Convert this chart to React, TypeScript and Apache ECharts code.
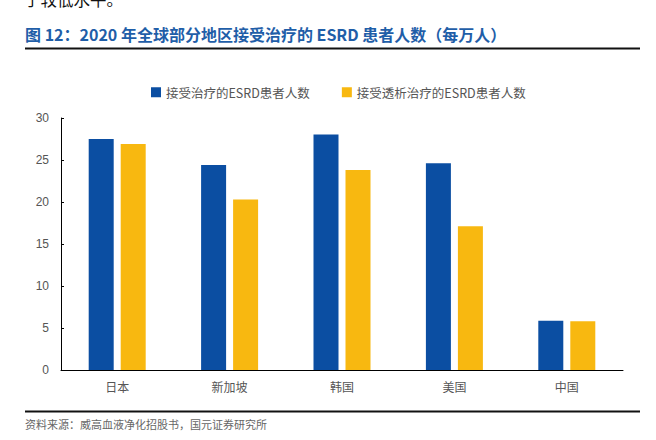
import React, { useEffect, useRef } from "react";
import * as echarts from "echarts";

const categories = ["日本", "新加坡", "韩国", "美国", "中国"];
const treated = [27.5, 24.4, 28.05, 24.6, 5.85];
const dialysis = [26.9, 20.3, 23.8, 17.1, 5.8];
const seriesNames = ["接受治疗的ESRD患者人数", "接受透析治疗的ESRD患者人数"];
const yTicks = { min: 0, max: 30, interval: 5 };

const CJK = '"Noto Sans CJK SC", "Liberation Sans", sans-serif';

export default function App() {
  const ref = useRef<HTMLDivElement>(null);
  useEffect(() => {
    if (!ref.current) return;
    const chart = echarts.init(ref.current, undefined, { renderer: "svg" });
    chart.setOption({
      animation: false,
      backgroundColor: "#ffffff",
      textStyle: { fontFamily: CJK },
      legend: {
        top: 81,
        left: 146,
        itemWidth: 10,
        itemHeight: 10,
        itemGap: 32,
        icon: "rect",
        textStyle: { color: "#555555", fontSize: 12.5, fontFamily: CJK },
        data: seriesNames,
      },
      grid: { left: 61, right: 33, top: 118, bottom: 70, containLabel: false },
      xAxis: {
        type: "category",
        data: categories,
        axisLine: { lineStyle: { color: "#000000", width: 1 } },
        axisTick: { inside: true, length: 4, lineStyle: { color: "#000000" } },
        axisLabel: { color: "#555555", fontSize: 12, margin: 10, fontFamily: CJK },
      },
      yAxis: {
        type: "value",
        min: yTicks.min,
        max: yTicks.max,
        interval: yTicks.interval,
        axisLine: { show: true, lineStyle: { color: "#000000", width: 1 } },
        axisTick: { show: true, inside: true, length: 3, lineStyle: { color: "#000000" } },
        axisLabel: { color: "#555555", fontSize: 12, margin: 12, fontFamily: "Liberation Sans, sans-serif" },
        splitLine: { show: false },
      },
      series: [
        {
          name: seriesNames[0],
          type: "bar",
          data: treated,
          barWidth: 25,
          barGap: "28%",
          itemStyle: { color: "#0b4ea2" },
        },
        {
          name: seriesNames[1],
          type: "bar",
          data: dialysis,
          barWidth: 25,
          itemStyle: { color: "#f8b810" },
        },
      ],
      graphic: [
        {
          type: "text",
          left: 24,
          top: -9,
          style: { text: "于较低水平。", fill: "#111111", font: `16.5px ${CJK}` },
        },
        {
          type: "text",
          left: 25,
          top: 26,
          style: {
            text: "图 12：2020 年全球部分地区接受治疗的 ESRD 患者人数（每万人）",
            fill: "#1f5ea8",
            font: `bold 16px ${CJK}`,
          },
        },
        {
          type: "line",
          shape: { x1: 25, y1: 48.5, x2: 640, y2: 48.5 },
          style: { stroke: "#111111", lineWidth: 2 },
        },
        {
          type: "line",
          shape: { x1: 25, y1: 411.5, x2: 640, y2: 411.5 },
          style: { stroke: "#111111", lineWidth: 2 },
        },
        {
          type: "text",
          left: 25,
          top: 418,
          style: {
            text: "资料来源：威高血液净化招股书，国元证券研究所",
            fill: "#666666",
            font: `11px ${CJK}`,
          },
        },
      ],
    });
    return () => chart.dispose();
  }, []);
  return <div ref={ref} style={{ width: 656, height: 440, position: "absolute", left: 0, top: 0 }} />;
}
